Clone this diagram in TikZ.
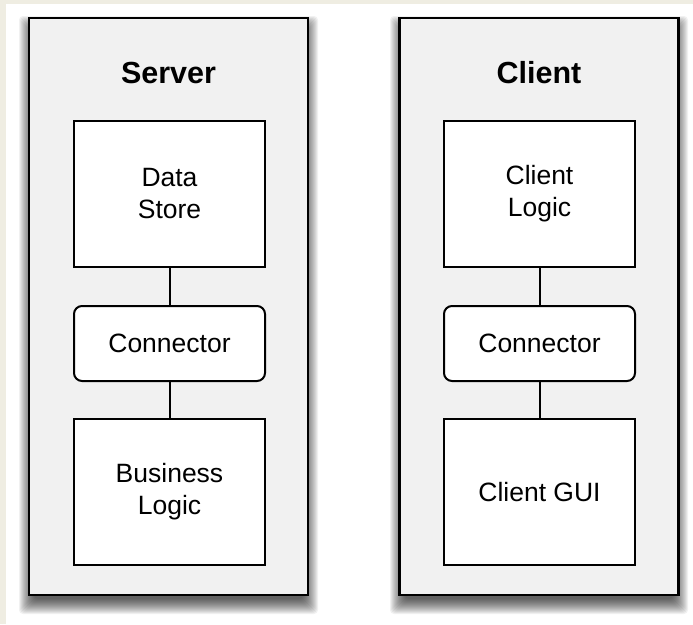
\documentclass[tikz,border=0pt]{standalone}
\usepackage{fontspec}
\setmainfont{Liberation Sans}
\definecolor{cream}{RGB}{239,237,226}
\definecolor{panelgray}{RGB}{241,241,241}
\tikzset{
  panel/.style={draw=black, line width=2.6pt, fill=panelgray, minimum width=279pt, minimum height=577pt, inner sep=0pt},
  shadowlayer/.style={fill=black, opacity=0.055},
  title/.style={font=\fontsize{30.5}{36}\selectfont\bfseries, inner sep=0pt},
  compbox/.style={draw=black, line width=2pt, fill=white, minimum width=191pt, minimum height=146pt, inner sep=0pt,
    align=center, font=\fontsize{26.5}{32}\selectfont},
  connbox/.style={draw=black, line width=2pt, fill=white, rounded corners=8pt, minimum width=191pt, minimum height=75pt,
    inner sep=0pt, align=center, font=\fontsize{26.5}{32}\selectfont},
  link/.style={draw=black, line width=2pt}
}
\begin{document}
\begin{tikzpicture}[x=1pt, y=-1pt]
\useasboundingbox (0,0) rectangle (693,624);
\fill[white] (0,0) rectangle (693,624);
\fill[cream] (0,0) rectangle (693,4);
\fill[cream] (0,0) rectangle (6,624);

% shadows
\foreach \e in {-5,...,10}{
  \fill[shadowlayer, rounded corners=4pt] (29-\e,26-\e) rectangle (308+\e,604+\e);
  \fill[shadowlayer, rounded corners=4pt] (400-\e,26-\e) rectangle (678+\e,604+\e);
}

% Server
\node[panel] (server) at (168.5,306.5) {};
\node[title] (servertitle) at (168.5,73) {Server};
\node[compbox] (datastore) at (169.5,194) {Data\\Store};
\node[connbox] (sconn) at (169.5,343.5) {Connector};
\node[compbox] (business) at (169.5,492) {Business\\Logic};
\draw[link] (datastore) -- (sconn);
\draw[link] (sconn) -- (business);

% Client
\node[panel] (client) at (539,306.5) {};
\node[title] (clienttitle) at (539,73) {Client};
\node[compbox] (clientlogic) at (539.5,194) {Client\\Logic};
\node[connbox] (cconn) at (539.5,343.5) {Connector};
\node[compbox] (clientgui) at (539.5,492) {Client GUI};
\draw[link] (clientlogic) -- (cconn);
\draw[link] (cconn) -- (clientgui);
\end{tikzpicture}
\end{document}
